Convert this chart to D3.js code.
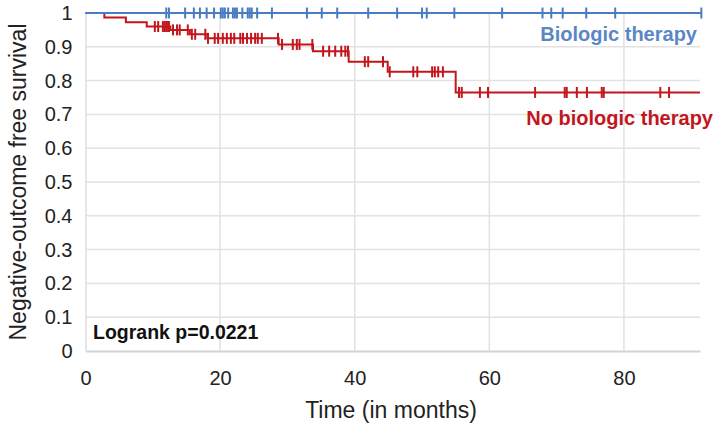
<!DOCTYPE html>
<html><head><meta charset="utf-8">
<script src="https://cdn.jsdelivr.net/npm/d3@7"></script>
<style>
html,body{margin:0;padding:0;background:#fff;}
svg{display:block;font-family:"Liberation Sans",Arial,Helvetica,sans-serif;}
</style></head>
<body>
<svg id="chart" width="720" height="431"></svg>
<script>
// ---- data ----
const xTickValues = [0, 20, 40, 60, 80];
const yTickValues = [0, 0.1, 0.2, 0.3, 0.4, 0.5, 0.6, 0.7, 0.8, 0.9, 1];
const yTickLabels = ["0", "0.1", "0.2", "0.3", "0.4", "0.5", "0.6", "0.7", "0.8", "0.9", "1"];

// No biologic therapy: event times (months) and survival after each drop
const redEventTimes = [2.8, 6.0, 9.1, 12.6, 15.5, 18.1, 28.7, 33.8, 39.1, 44.9, 55.0];
const redSurvival   = [0.987, 0.973, 0.960, 0.950, 0.937, 0.925, 0.907, 0.887, 0.856, 0.826, 0.765];
const redFollowUpEnd = 91.3;
const redCensorTimes = [10.3, 10.8, 11.5, 11.8, 12.1, 12.4, 13.0, 13.6, 14.0, 15.2, 15.8, 16.3, 17.8, 18.2,
  19.2, 19.7, 20.4, 21.0, 21.6, 22.1, 23.0, 23.4, 24.0, 24.6, 25.2, 25.6, 26.2, 28.6, 29.2,
  30.8, 31.4, 31.8, 33.7, 35.3, 36.2, 37.1, 38.0, 38.6, 39.0, 41.5, 42.0, 44.2, 45.2,
  48.7, 49.3, 51.5, 51.9, 52.4, 53.1, 55.5, 55.9, 58.6, 59.8, 66.8, 71.2, 71.5, 73.0,
  74.5, 76.7, 77.0, 85.4, 86.7];

// Biologic therapy: no events, censor times only
const blueSurvival = 1;
const blueFollowUpEnd = 91.5;
const blueCensorTimes = [12.0, 12.4, 14.8, 16.1, 17.0, 18.0, 19.1, 20.1, 20.4, 20.7, 21.2, 21.9, 22.2,
  22.5, 23.3, 24.1, 24.4, 24.7, 25.5, 27.7, 32.9, 35.1, 37.4, 42.0, 46.3, 50.0, 50.7,
  54.8, 61.9, 67.9, 69.2, 70.9, 74.4, 78.7, 91.5];

const seriesNames = ["Biologic therapy", "No biologic therapy"];
const xTitle = "Time (in months)";
const yTitle = "Negative-outcome free survival";
const annotation = "Logrank p=0.0221";

// ---- layout ----
const svg = d3.select("#chart");
const plot = {left: 85.5, right: 700, top: 13, bottom: 351};
const x = d3.scaleLinear().domain([0, 91.3]).range([plot.left, plot.right]);
const y = d3.scaleLinear().domain([0, 1]).range([plot.bottom, plot.top]);

const blue = "#4a7cc2", blueText = "#5a87c6", red = "#c3161c";

// gridlines
const grid = svg.append("g");
grid.selectAll("line.h").data(yTickValues.filter(v => v > 0 && v < 1)).enter().append("line")
  .attr("x1", plot.left).attr("x2", plot.right)
  .attr("y1", d => y(d)).attr("y2", d => y(d))
  .attr("stroke", "#e2e2e2").attr("stroke-width", 1.5);
grid.selectAll("line.v").data(xTickValues.filter(v => v > 0)).enter().append("line")
  .attr("x1", d => x(d)).attr("x2", d => x(d))
  .attr("y1", plot.top).attr("y2", plot.bottom)
  .attr("stroke", "#e2e2e2").attr("stroke-width", 1.5);

// axes
const xAxis = svg.append("g").attr("transform", `translate(0,${plot.bottom})`)
  .call(d3.axisBottom(x).tickValues(xTickValues).tickSize(0).tickPadding(20).tickFormat(d3.format("d")));
xAxis.select(".domain").attr("stroke", "#d4d4d4").attr("stroke-width", 2);
xAxis.selectAll("text").attr("font-size", 20).attr("fill", "#222").attr("font-family", "Liberation Sans, Arial, sans-serif");

const yAxis = svg.append("g").attr("transform", `translate(${plot.left},0)`)
  .call(d3.axisLeft(y).tickValues(yTickValues).tickSize(0).tickPadding(13)
    .tickFormat((d, i) => yTickLabels[i]));
yAxis.select(".domain").attr("stroke", "#dedede").attr("stroke-width", 1.5);
yAxis.selectAll("text").attr("font-size", 20).attr("fill", "#222").attr("font-family", "Liberation Sans, Arial, sans-serif");

// axis titles
svg.append("text").attr("x", 391).attr("y", 418)
  .attr("text-anchor", "middle").attr("font-size", 23).attr("fill", "#222").text(xTitle);
svg.append("text").attr("transform", `translate(26,${(plot.top + plot.bottom) / 2}) rotate(-90)`)
  .attr("text-anchor", "middle").attr("font-size", 23).attr("fill", "#222").text(yTitle);

// step function helpers
function stepValue(times, surv, t) {
  let s = 1;
  for (let i = 0; i < times.length; i++) if (times[i] <= t) s = surv[i];
  return s;
}
const line = d3.line().x(d => x(d[0])).y(d => y(d[1])).curve(d3.curveStepAfter);

// red curve
const redPts = [[0, 1]].concat(redEventTimes.map((t, i) => [t, redSurvival[i]]))
  .concat([[redFollowUpEnd, redSurvival[redSurvival.length - 1]]]);
svg.append("path").datum(redPts).attr("d", line)
  .attr("fill", "none").attr("stroke", red).attr("stroke-width", 2);
svg.append("g").selectAll("line").data(redCensorTimes).enter().append("line")
  .attr("x1", d => x(d)).attr("x2", d => x(d))
  .attr("y1", d => y(stepValue(redEventTimes, redSurvival, d)) - 5.5)
  .attr("y2", d => y(stepValue(redEventTimes, redSurvival, d)) + 5.5)
  .attr("stroke", red).attr("stroke-width", 2);

// blue curve
const bluePts = [[0, blueSurvival], [blueFollowUpEnd, blueSurvival]];
svg.append("path").datum(bluePts).attr("d", line)
  .attr("fill", "none").attr("stroke", blue).attr("stroke-width", 2);
svg.append("g").selectAll("line").data(blueCensorTimes).enter().append("line")
  .attr("x1", d => x(d)).attr("x2", d => x(d))
  .attr("y1", y(blueSurvival) - 5.5).attr("y2", y(blueSurvival) + 5.5)
  .attr("stroke", blue).attr("stroke-width", 2);

// labels
svg.append("text").attr("x", 697).attr("y", 41).attr("text-anchor", "end")
  .attr("font-size", 20).attr("font-weight", "bold").attr("fill", blueText).text(seriesNames[0]);
svg.append("text").attr("x", 713).attr("y", 125).attr("text-anchor", "end")
  .attr("font-size", 20).attr("font-weight", "bold").attr("fill", red).text(seriesNames[1]);
svg.append("text").attr("x", 93).attr("y", 339)
  .attr("font-size", 19.5).attr("font-weight", "bold").attr("fill", "#111").text(annotation);
</script>
</body></html>
